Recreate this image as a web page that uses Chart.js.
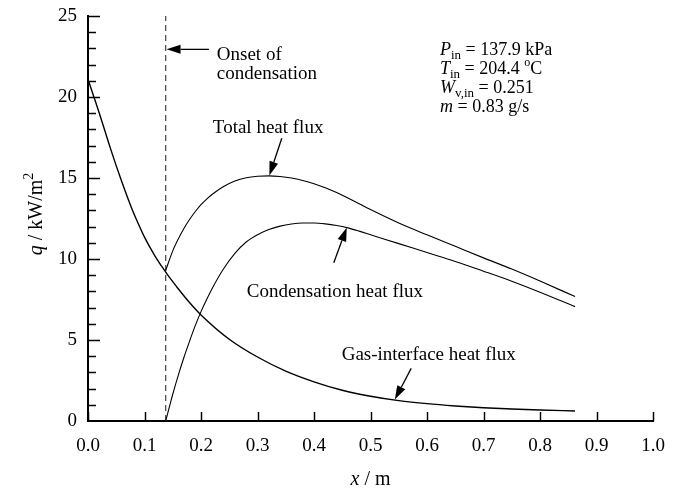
<!DOCTYPE html>
<html>
<head>
<meta charset="utf-8">
<script src="https://cdn.jsdelivr.net/npm/chart.js@4.4.1/dist/chart.umd.min.js"></script>
<style>
  html, body { margin: 0; padding: 0; background: #fff; }
  #wrap { width: 677px; height: 489px; }
</style>
</head>
<body>
<div id="wrap"><canvas id="chartFlux" width="677" height="489"></canvas></div>
<script>
// Heat flux along the channel

// Gas-interface heat flux
const xGas = [0, 0.01, 0.02, 0.03, 0.04, 0.05, 0.06, 0.07, 0.08, 0.09, 0.10, 0.11, 0.12, 0.13, 0.14, 0.15, 0.16, 0.18, 0.20, 0.25, 0.30, 0.35, 0.40, 0.45, 0.50, 0.55, 0.60, 0.65, 0.70, 0.75, 0.80, 0.862];
const qGas = [21.1, 20.05, 19.0, 17.9, 16.8, 15.75, 14.75, 13.8, 12.9, 12.1, 11.35, 10.7, 10.1, 9.57, 9.07, 8.6, 8.15, 7.3, 6.55, 5.05, 3.95, 3.08, 2.42, 1.9, 1.53, 1.26, 1.07, 0.93, 0.82, 0.74, 0.68, 0.62];

// Condensation heat flux
const xCond = [0.1375, 0.145, 0.15, 0.16, 0.17, 0.18, 0.19, 0.20, 0.21, 0.22, 0.24, 0.26, 0.28, 0.30, 0.32, 0.34, 0.36, 0.38, 0.40, 0.42, 0.44, 0.46, 0.48, 0.50, 0.55, 0.60, 0.65, 0.70, 0.75, 0.80, 0.862];
const qCond = [0, 1.0, 1.65, 2.85, 3.95, 4.95, 5.9, 6.75, 7.5, 8.2, 9.4, 10.35, 11.05, 11.5, 11.82, 12.03, 12.16, 12.22, 12.22, 12.17, 12.07, 11.92, 11.72, 11.5, 10.95, 10.4, 9.85, 9.25, 8.63, 7.95, 7.06];

// Total heat flux
const xTotal = [0.1375, 0.15, 0.16, 0.17, 0.18, 0.19, 0.20, 0.21, 0.22, 0.24, 0.26, 0.28, 0.30, 0.32, 0.34, 0.36, 0.38, 0.40, 0.42, 0.44, 0.46, 0.48, 0.50, 0.55, 0.60, 0.65, 0.70, 0.75, 0.80, 0.862];
const qTotal = [9.3, 10.5, 11.25, 11.9, 12.45, 12.93, 13.35, 13.7, 14.0, 14.48, 14.82, 15.02, 15.11, 15.13, 15.09, 15.0, 14.85, 14.65, 14.4, 14.1, 13.76, 13.41, 13.05, 12.22, 11.49, 10.78, 10.07, 9.38, 8.64, 7.68];

// Onset of condensation (dashed)
const xOnset = [0.1375, 0.1375];
const qOnset = [0, 25];

const xTicks = [0, 0.1, 0.2, 0.3, 0.4, 0.5, 0.6, 0.7, 0.8, 0.9, 1.0];
const yTicks = [0, 5, 10, 15, 20, 25];

const FONT = "'Liberation Serif', 'Times New Roman', serif";

function toPoints(xs, ys) {
    return xs.map((x, i) => ({ x: x, y: ys[i] }));
}

// draws text made of several runs (italic, sub/superscript)
function drawRuns(ctx, x, y, runs, align) {
    let total = 0;
    runs.forEach(r => {
        ctx.font = (r.style || 'normal') + ' ' + (r.size || 19) + 'px ' + FONT;
        r.w = ctx.measureText(r.t).width;
        total += r.w;
    });
    let cx = align === 'center' ? x - total / 2 : x;
    runs.forEach(r => {
        ctx.font = (r.style || 'normal') + ' ' + (r.size || 19) + 'px ' + FONT;
        ctx.fillText(r.t, cx, y + (r.dy || 0));
        cx += r.w;
    });
}

function drawArrow(ctx, x1, y1, x2, y2) {
    const ang = Math.atan2(y2 - y1, x2 - x1);
    const len = 14, half = 4.5;
    const bx = x2 - len * Math.cos(ang), by = y2 - len * Math.sin(ang);
    ctx.beginPath();
    ctx.moveTo(x1, y1);
    ctx.lineTo(bx, by);
    ctx.stroke();
    ctx.beginPath();
    ctx.moveTo(x2, y2);
    ctx.lineTo(bx + half * Math.sin(ang), by - half * Math.cos(ang));
    ctx.lineTo(bx - half * Math.sin(ang), by + half * Math.cos(ang));
    ctx.closePath();
    ctx.fill();
}

// annotations in data coordinates
const arrows = [
    { from: [0.214, 22.94], to: [0.139, 22.94] },
    { from: [0.343, 17.45], to: [0.321, 15.15] },
    { from: [0.435, 9.77], to: [0.458, 11.95] },
    { from: [0.572, 3.25], to: [0.543, 1.32] }
];
const labels = [
    { at: [0.228, 22.3], runs: [{ t: 'Onset of' }] },
    { at: [0.228, 21.13], runs: [{ t: 'condensation' }] },
    { at: [0.221, 17.78], runs: [{ t: 'Total heat flux' }] },
    { at: [0.281, 7.67], runs: [{ t: 'Condensation heat flux' }] },
    { at: [0.449, 3.77], runs: [{ t: 'Gas-interface heat flux' }] },
    { at: [0.623, 22.6], runs: [{ t: 'P', style: 'italic', size: 18 }, { t: 'in', size: 13, dy: 4 }, { t: ' = 137.9 kPa', size: 18 }] },
    { at: [0.623, 21.43], runs: [{ t: 'T', style: 'italic', size: 18 }, { t: 'in', size: 13, dy: 4 }, { t: ' = 204.4 ', size: 18 }, { t: 'o', size: 12, dy: -8 }, { t: 'C', size: 18 }] },
    { at: [0.623, 20.26], runs: [{ t: 'W', style: 'italic', size: 18 }, { t: 'v,in', size: 13, dy: 4 }, { t: ' = 0.251', size: 18 }] },
    { at: [0.623, 19.09], runs: [{ t: 'm', style: 'italic', size: 18 }, { t: ' = 0.83 g/s', size: 18 }] }
];

const axesPlugin = {
    id: 'axesDecor',
    afterDraw(chart) {
        const ctx = chart.ctx;
        const xs = chart.scales.x, ys = chart.scales.y;
        const area = chart.chartArea;
        ctx.save();
        ctx.strokeStyle = '#000';
        ctx.fillStyle = '#000';
        ctx.lineWidth = 1.5;
        // inward ticks
        xTicks.forEach(v => {
            const px = Math.round(xs.getPixelForValue(v)) + 0.5;
            ctx.beginPath();
            ctx.moveTo(px, area.bottom);
            ctx.lineTo(px, area.bottom - 9);
            ctx.stroke();
        });
        for (let v = 1; v <= 25; v++) {
            const py = Math.round(ys.getPixelForValue(v)) + 0.5;
            const len = (v % 5 === 0) ? 12 : 8;
            ctx.beginPath();
            ctx.moveTo(area.left, py);
            ctx.lineTo(area.left + len, py);
            ctx.stroke();
        }
        // arrows
        ctx.lineWidth = 1.3;
        arrows.forEach(a => {
            drawArrow(ctx, xs.getPixelForValue(a.from[0]), ys.getPixelForValue(a.from[1]),
                xs.getPixelForValue(a.to[0]), ys.getPixelForValue(a.to[1]));
        });
        // labels
        ctx.textBaseline = 'alphabetic';
        ctx.textAlign = 'left';
        labels.forEach(l => {
            drawRuns(ctx, xs.getPixelForValue(l.at[0]), ys.getPixelForValue(l.at[1]), l.runs, 'left');
        });
        // axis titles
        drawRuns(ctx, (area.left + area.right) / 2, 485, [{ t: 'x', style: 'italic', size: 20 }, { t: ' / m', size: 20 }], 'center');
        ctx.translate(42, 214);
        ctx.rotate(-Math.PI / 2);
        drawRuns(ctx, 0, 0, [{ t: 'q', style: 'italic', size: 20 }, { t: ' / kW/m', size: 20 }, { t: '2', size: 14, dy: -9 }], 'center');
        ctx.restore();
    }
};

const ctx = document.getElementById('chartFlux').getContext('2d');
new Chart(ctx, {
    type: 'line',
    data: {
        datasets: [
            { data: toPoints(xGas, qGas), borderColor: '#000', borderWidth: 1.4, pointRadius: 0, cubicInterpolationMode: 'monotone' },
            { data: toPoints(xCond, qCond), borderColor: '#000', borderWidth: 1.1, pointRadius: 0, cubicInterpolationMode: 'monotone' },
            { data: toPoints(xTotal, qTotal), borderColor: '#000', borderWidth: 1.1, pointRadius: 0, cubicInterpolationMode: 'monotone' },
            { data: toPoints(xOnset, qOnset), borderColor: '#444', borderWidth: 1.2, borderDash: [6, 4], pointRadius: 0 }
        ]
    },
    options: {
        responsive: false,
        animation: false,
        layout: { padding: { top: 16, right: 24, left: 0, bottom: 0 } },
        plugins: { legend: { display: false }, tooltip: { enabled: false } },
        scales: {
            x: {
                type: 'linear', min: 0, max: 1,
                afterFit: s => { s.height = 68; },
                afterBuildTicks: s => { s.ticks = xTicks.map(v => ({ value: v })); },
                grid: { display: false },
                border: { display: true, color: '#000', width: 2 },
                ticks: { color: '#000', padding: 6, maxRotation: 0, font: { family: FONT, size: 19 }, callback: v => v.toFixed(1) }
            },
            y: {
                min: 0, max: 25,
                afterFit: s => { s.width = 88; },
                afterBuildTicks: s => { s.ticks = yTicks.map(v => ({ value: v })); },
                grid: { display: false },
                border: { display: true, color: '#000', width: 2 },
                ticks: { color: '#000', padding: 3, font: { family: FONT, size: 19 } }
            }
        }
    },
    plugins: [axesPlugin]
});
</script>
</body>
</html>
